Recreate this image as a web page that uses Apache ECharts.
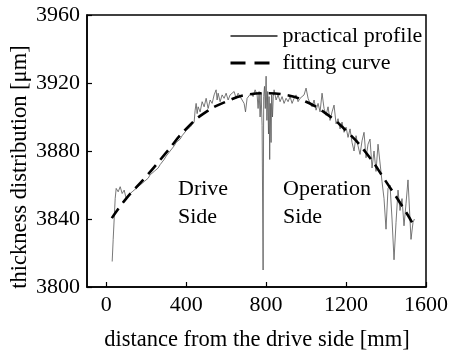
<!DOCTYPE html>
<html><head><meta charset="utf-8">
<script src="https://cdn.jsdelivr.net/npm/echarts@6/dist/echarts.min.js"></script>
<style>html,body{margin:0;padding:0;background:#fff}#c{width:451px;height:356px}</style>
</head><body><div id="c"></div>
<script>
var xTicks = [0, 400, 800, 1200, 1600];
var yTicks = [3800, 3840, 3880, 3920, 3960];
var seriesNames = ['practical profile', 'fitting curve'];
var profileX = [30,35,40,45,50,60,70,80,90,100,110,120,130,140,150,160,170,180,190,200,
 210,220,230,240,250,260,270,280,290,300,310,320,330,340,350,360,370,380,390,400,
 410,420,430,440,445,450,455,460,470,480,490,500,510,520,530,540,550,555,560,570,
 580,590,600,610,620,630,640,650,660,670,680,690,697,705,715,725,735,745,755,760,
 765,770,775,780,785,788,792,796,800,804,808,812,815,818,821,825,828,832,836,840,
 850,860,870,880,890,900,910,920,930,940,950,960,970,980,990,1000,1010,1020,1030,1040,
 1050,1060,1070,1080,1090,1100,1110,1120,1130,1140,1150,1160,1170,1180,1190,1200,1210,1220,1230,1240,
 1250,1260,1270,1280,1290,1300,1310,1320,1330,1340,1350,1360,1370,1380,1390,1400,1410,1420,1430,1440,
 1450,1460,1470,1480,1490,1500,1510,1515,1525,1535,1542];
var profileY = [3815,3828,3840,3852,3858,3856,3859,3855,3857,3852,3854,3853,3856,3855,3858,3857,3860,3859,3862,3861,
 3864,3866,3865,3868,3867,3870,3872,3871,3875,3877,3876,3880,3879,3883,3885,3884,3887,3889,3888,3892,
 3891,3894,3893,3897,3904,3908,3902,3906,3903,3909,3906,3911,3905,3910,3908,3913,3916,3910,3914,3909,
 3913,3911,3914,3910,3913,3912,3915,3911,3914,3912,3913,3908,3903,3911,3910,3914,3912,3916,3913,3905,
 3915,3900,3914,3895,3810,3912,3918,3905,3924,3898,3915,3890,3912,3875,3908,3885,3913,3900,3912,3916,
 3910,3913,3909,3912,3908,3911,3909,3912,3908,3911,3913,3909,3911,3910,3913,3917,3911,3908,3906,3910,
 3904,3908,3903,3914,3905,3901,3906,3898,3903,3907,3896,3899,3893,3897,3891,3894,3888,3893,3885,3880,
 3889,3883,3878,3886,3891,3876,3884,3887,3870,3880,3868,3884,3885,3862,3852,3834,3858,3860,3840,3816,
 3838,3857,3845,3852,3836,3849,3863,3862,3828,3838,3840];
var fitX = [28,100,200,300,400,500,600,700,800,900,1000,1100,1200,1300,1400,1500,1530];
var fitY = [3840.5,3852,3865,3879,3893,3903,3909,3913,3914,3913,3909,3902,3892,3879,3862,3844,3838];

function pairs(xs, ys){ return xs.map(function(x,i){ return [x, ys[i]]; }); }
function plain(v){ return String(v); }

var font = 'Liberation Serif';
var fs = 22;
var chart = echarts.init(document.getElementById('c'), null, {renderer:'canvas'});
chart.setOption({
  animation:false,
  backgroundColor:'#fff',
  grid:{left:87, right:23, top:15, bottom:69, show:true, borderColor:'#000', borderWidth:1.5, backgroundColor:'transparent'},
  xAxis:{type:'value', min:-96, max:1600,
    axisLine:{show:true, onZero:false, lineStyle:{color:'#000', width:1.5}},
    axisTick:{show:true, inside:true, length:5, customValues:xTicks, lineStyle:{color:'#000', width:1.2}},
    axisLabel:{customValues:xTicks, formatter:plain, color:'#000', fontFamily:font, fontSize:fs, margin:7},
    splitLine:{show:false}},
  yAxis:{type:'value', min:yTicks[0], max:yTicks[yTicks.length-1], interval:40,
    axisLine:{show:true, onZero:false, lineStyle:{color:'#000', width:1.5}},
    axisTick:{show:true, inside:true, length:5, lineStyle:{color:'#000', width:1.2}},
    axisLabel:{formatter:plain, color:'#000', fontFamily:font, fontSize:fs, margin:7},
    splitLine:{show:false}},
  legend:{orient:'vertical', left:224, top:20, itemWidth:47, itemHeight:14, itemGap:5,
    itemStyle:{opacity:0},
    textStyle:{fontFamily:font, fontSize:fs, color:'#000', lineHeight:22},
    data:[{name:seriesNames[0]},{name:seriesNames[1], lineStyle:{type:[15,9], width:3, color:'#000'}}]},
  series:[
    {name:seriesNames[0], type:'line', data:pairs(profileX, profileY), symbol:'none',
     itemStyle:{color:'#555'}, lineStyle:{color:'#555', width:0.8}, z:2},
    {name:seriesNames[1], type:'line', data:pairs(fitX, fitY), symbol:'none', smooth:true,
     itemStyle:{color:'#000'}, lineStyle:{color:'#000', width:2.6, type:[12,7]}, z:3}
  ],
  graphic:[
    {type:'text', left:178, top:175, style:{text:'Drive\nSide', font:'22px "Liberation Serif"', fill:'#000', lineHeight:28}},
    {type:'text', left:283, top:175, style:{text:'Operation\nSide', font:'22px "Liberation Serif"', fill:'#000', lineHeight:28}},
    {type:'text', x:257, y:340, style:{text:'distance from the drive side [mm]', font:'22.5px "Liberation Serif"', fill:'#000', align:'center', verticalAlign:'middle'}},
    {type:'text', x:20, y:167, rotation:Math.PI/2, style:{text:'thickness distribution [μm]', font:'22.5px "Liberation Serif"', fill:'#000', align:'center', verticalAlign:'middle'}}
  ]
});
</script></body></html>
